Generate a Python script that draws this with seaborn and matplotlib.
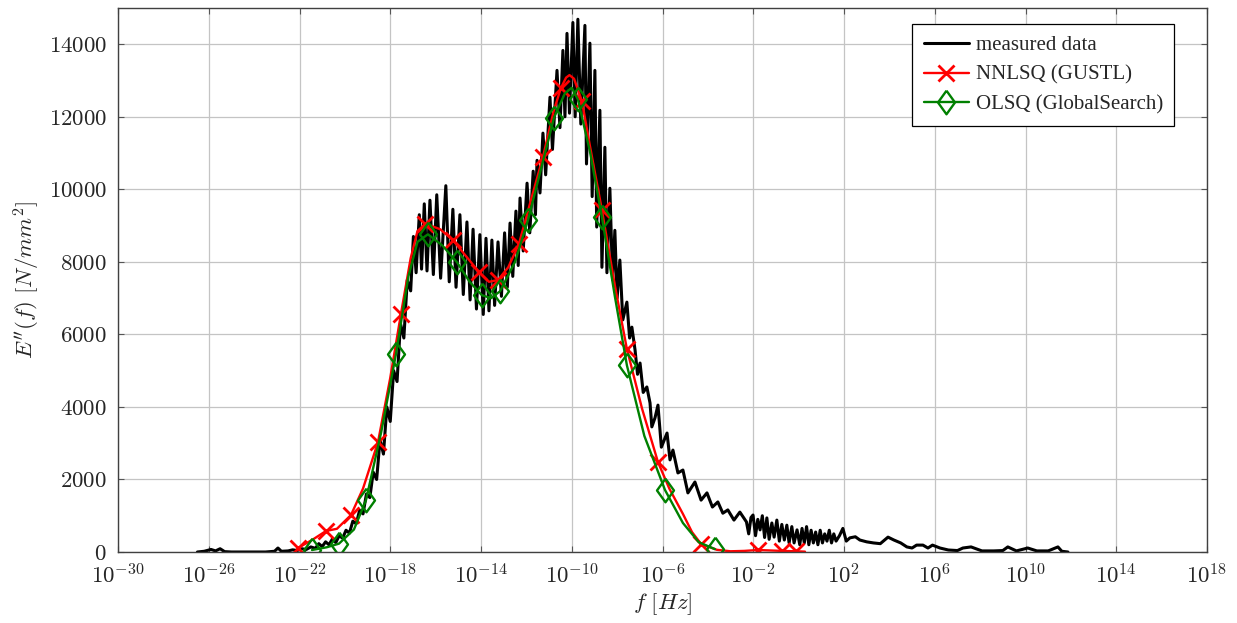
import numpy as np
import pandas as pd
import matplotlib
matplotlib.use("Agg")
import matplotlib.pyplot as plt
import seaborn as sns
from matplotlib.ticker import FixedLocator, FixedFormatter, NullLocator

# ---- measured loss modulus: log10(f) and E'' [N/mm^2] ----
meas_logf = [
    -26.5, -26.2, -25.9, -25.7, -25.5, -25.3, -25.0, -24.5, -24.0, -23.5,
    -23.1, -22.95, -22.8, -22.5, -22.3, -22.1, -21.9, -21.7, -21.5, -21.3,
    -21.15, -21.0, -20.85, -20.7, -20.55, -20.4, -20.25, -20.1, -19.95, -19.8,
    -19.65, -19.5, -19.35, -19.2, -19.05, -18.9, -18.75, -18.6, -18.45, -18.3,
    -18.15, -18.0, -17.85, -17.7, -17.55, -17.4, -17.25, -17.1,
    -16.98, -16.86, -16.72, -16.62, -16.5, -16.38, -16.25, -16.1, -15.95, -15.78,
    -15.55, -15.4, -15.24, -15.1, -14.93, -14.78, -14.62, -14.48, -14.35, -14.2,
    -14.05, -13.9, -13.78, -13.65, -13.52, -13.4, -13.25, -13.1, -12.96, -12.84,
    -12.72, -12.6, -12.46, -12.36, -12.28, -12.14, -11.97, -11.85, -11.7, -11.6,
    -11.53, -11.4, -11.27, -11.15, -10.96, -10.85, -10.65, -10.52, -10.39, -10.3,
    -10.21, -10.1, -9.95, -9.85, -9.73, -9.6, -9.42, -9.35, -9.2, -9.1,
    -8.98, -8.9, -8.76, -8.67, -8.54, -8.45, -8.32, -8.2, -8.1, -8.0,
    -7.88, -7.75, -7.57, -7.45, -7.35, -7.21, -7.1, -6.99, -6.85, -6.69,
    -6.55, -6.47, -6.33, -6.2, -6.05, -5.8, -5.67, -5.54, -5.32, -5.1,
    -4.88, -4.57, -4.3, -4.04, -3.8, -3.56, -3.34, -3.12, -2.85, -2.59,
    -2.3, -2.2, -2.1, -2.01, -1.9, -1.8, -1.7, -1.6, -1.5, -1.4,
    -1.3, -1.18, -1.08, -0.96, -0.85, -0.74, -0.63, -0.52, -0.42, -0.3,
    -0.2, -0.07, 0.05, 0.15, 0.25, 0.35, 0.45, 0.55, 0.65, 0.75,
    0.85, 0.95, 1.05, 1.15, 1.25, 1.35, 1.45, 1.55, 1.65, 1.8,
    1.95, 2.1, 2.26, 2.5, 2.7, 3.0, 3.3, 3.6,
    3.94, 4.2, 4.5, 4.77, 5.0, 5.2, 5.48, 5.7, 5.9, 6.23,
    6.6, 7.0, 7.24, 7.6, 8.08, 8.6, 9.0, 9.22, 9.6, 10.1,
    10.5, 11.0, 11.43, 11.6, 11.87,
]
meas_val = [
    0, 20, 70, 30, 90, 10, 0, 0, 0, 0,
    20, 110, 20, 30, 60, 40, 90, 70, 140, 100,
    230, 150, 280, 200, 360, 260, 450, 380, 600, 520,
    850, 780, 1150, 1050, 1600, 1500, 2200, 2000, 3100, 2700,
    4000, 3600, 5000, 4700, 6300, 5900, 7500, 7200,
    8700, 7700, 9300, 7800, 9600, 7750, 9700, 7650, 9850, 7550,
    10100, 7450, 9450, 7300, 9300, 7100, 9100, 6950, 8900, 6700,
    8750, 6550, 8650, 6650, 8600, 6800, 8550, 7050, 8800, 7300,
    9070, 7600, 9400, 7900, 9760, 8300, 10170, 8800, 10500, 9300,
    10800, 9900, 11550, 10400, 12540, 11100, 13280, 11700, 13830, 12000,
    14300, 12100, 14600, 12000, 14690, 11800, 14520, 10700, 14030, 9800,
    13280, 8960, 12180, 7850, 11160, 7700, 10030, 7500, 8870, 7000,
    8050, 6400, 6890, 5900, 6200, 5570, 4900, 5210, 4400, 4550,
    4110, 3450, 3700, 4050, 2890, 3280, 2540, 2810, 2180, 2260,
    1630, 1930, 1430, 1630, 1240, 1380, 1070, 1160, 880, 1100,
    830, 500, 950, 1020, 450, 900, 610, 1000, 400, 940,
    350, 800, 410, 880, 300, 760, 330, 740, 250, 700,
    250, 610, 200, 650, 250, 700, 200, 600, 250, 550,
    200, 600, 250, 500, 300, 600, 250, 500, 300, 450,
    650, 300, 390, 420, 330, 280, 250, 230,
    410, 330, 250, 140, 110, 190, 190, 110, 190, 110,
    55, 40, 110, 140, 30, 30, 40, 140, 30, 110,
    30, 30, 140, 20, 0,
]

# ---- NNLSQ (GUSTL) fit: marked support points and curve points between ----
nn_mark_logf = [-22.07, -20.83, -19.73, -18.54, -17.53, -16.45, -15.24, -14.09,
                -13.25, -12.33, -11.27, -10.48, -9.55, -8.67, -7.57, -6.2,
                -4.3, -1.79, -0.74, -0.12]
nn_mark_val = [110, 580, 1020, 3030, 6560, 9050, 8600, 7720,
               7500, 8490, 10890, 12790, 12430, 9430, 5600, 2480,
               220, 55, 30, 20]
nn_mid_logf = [-21.45, -20.35, -19.2, -18.0, -17.1, -16.8, -15.8, -14.65,
               -13.65, -12.8, -11.8, -10.8, -10.25, -10.1, -9.9, -9.2,
               -8.1, -6.9, -5.7, -5.1, -4.7, -3.6, -3.0, -2.4, 0.28]
nn_mid_val = [330, 640, 1750, 4800, 8100, 8850, 8900, 8150,
              7450, 7850, 9700, 12150, 13080, 13150, 13050, 11200,
              7350, 3950, 1750, 1050, 550, 60, 20, 30, 10]

# ---- OLSQ (GlobalSearch) fit ----
gs_mark_logf = [-21.45, -20.26, -19.07, -17.75, -16.34, -15.06, -13.96, -13.16,
                -11.93, -10.78, -9.73, -8.67, -7.57, -5.89, -3.69]
gs_mark_val = [55, 230, 1430, 5450, 8760, 7990, 7080, 7190,
               9150, 11980, 12480, 9240, 5150, 1710, 80]
gs_mid_logf = [-20.8, -19.6, -18.4, -17.2, -16.8, -15.7, -14.5, -13.55,
               -12.5, -11.3, -10.3, -10.0, -9.2, -8.1, -6.8, -5.1, -4.4]
gs_mid_val = [130, 620, 3300, 7600, 8550, 8450, 7450, 7000,
              8000, 10700, 12650, 12800, 11050, 7050, 3200, 800, 270]

x_tick_exp = list(range(-30, 19, 4))
y_ticks = [0, 2000, 4000, 6000, 8000, 10000, 12000, 14000]


def fit_frame(mark_x, mark_y, mid_x, mid_y):
    df = pd.DataFrame({
        "logf": list(mark_x) + list(mid_x),
        "val": list(mark_y) + list(mid_y),
        "mark": [True] * len(mark_x) + [False] * len(mid_x),
    })
    df = df.sort_values("logf").reset_index(drop=True)
    df["f"] = 10.0 ** df["logf"]
    return df


meas = pd.DataFrame({"f": 10.0 ** np.array(meas_logf), "val": meas_val})
nn = fit_frame(nn_mark_logf, nn_mark_val, nn_mid_logf, nn_mid_val)
gs = fit_frame(gs_mark_logf, gs_mark_val, gs_mid_logf, gs_mid_val)

sns.set_style("ticks")
plt.rcParams["font.family"] = ["Liberation Serif", "DejaVu Serif"]
plt.rcParams["mathtext.fontset"] = "cm"

fig = plt.figure(figsize=(12.37, 6.23), dpi=100)
ax = fig.add_axes([118 / 1237, 71 / 623, 1089 / 1237, 544 / 623])
ax.set_xscale("log")

sns.lineplot(data=meas, x="f", y="val", ax=ax, color="black", lw=2.2,
             estimator=None, sort=False, label="measured data")

diamond = [(0, 1), (0.72, 0), (0, -1), (-0.72, 0), (0, 1)]

sns.lineplot(data=nn, x="f", y="val", ax=ax, color="red", lw=1.7,
             estimator=None, sort=False, label="NNLSQ (GUSTL)",
             marker="x", markersize=12, markeredgewidth=2,
             markeredgecolor="red",
             markevery=list(np.flatnonzero(nn["mark"].values)))

sns.lineplot(data=gs, x="f", y="val", ax=ax, color="green", lw=1.7,
             estimator=None, sort=False, label="OLSQ (GlobalSearch)",
             marker=diamond, markersize=17, markeredgewidth=1.7,
             markeredgecolor="green", markerfacecolor="none",
             markevery=list(np.flatnonzero(gs["mark"].values)))

ax.set_xlim(1e-30, 1e18)
ax.set_ylim(0, 15000)

ax.xaxis.set_major_locator(FixedLocator([10.0 ** k for k in x_tick_exp]))
ax.xaxis.set_major_formatter(FixedFormatter([f"$10^{{{k}}}$" for k in x_tick_exp]))
ax.xaxis.set_minor_locator(NullLocator())
ax.yaxis.set_major_locator(FixedLocator(y_ticks))
ax.yaxis.set_major_formatter(FixedFormatter([f"${v}$" for v in y_ticks]))

ax.grid(True, color="#c4c4c4", lw=0.9)
ax.set_axisbelow(True)
ax.tick_params(direction="in", length=4, width=0.8, color="#555555",
               top=True, right=True, labelsize=16.5)
ax.tick_params(axis="x", pad=9)
ax.tick_params(axis="y", pad=8)
for sp in ax.spines.values():
    sp.set_color("#404040")
    sp.set_linewidth(1.0)

ax.set_xlabel(r"$f\ [Hz]$", fontsize=16.5, labelpad=2)
ax.set_ylabel(r"$E''(f)\ [N/mm^2]$", fontsize=16.5, labelpad=5)

leg = ax.legend(loc="upper right", bbox_to_anchor=(0.97, 0.97), borderaxespad=0,
                frameon=True, fancybox=False, framealpha=1, edgecolor="black",
                fontsize=15, handlelength=2.2, borderpad=0.55, labelspacing=0.48,
                handletextpad=0.3)
leg.get_frame().set_linewidth(0.9)

fig.savefig("out.png", dpi=100)
